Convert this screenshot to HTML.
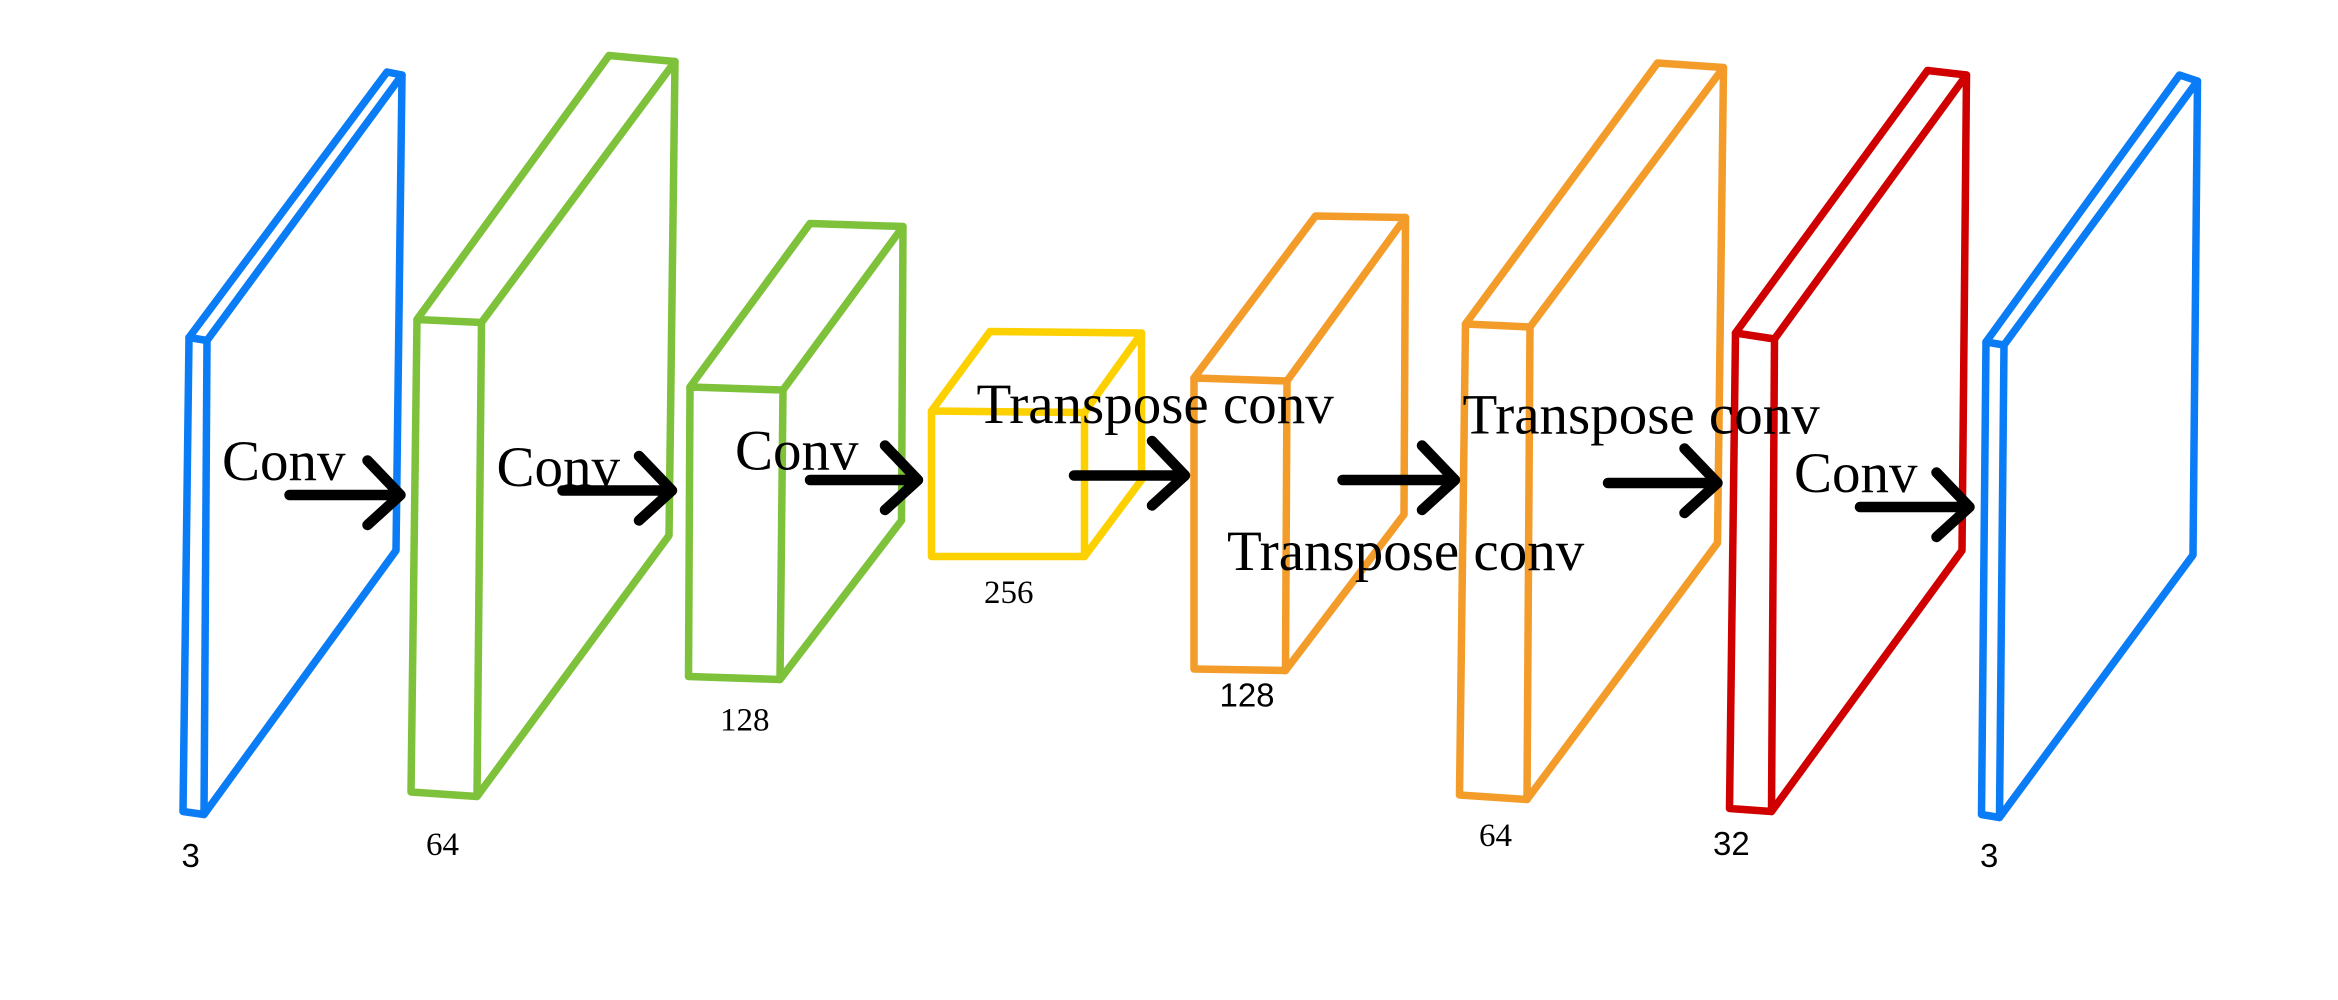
<!DOCTYPE html>
<html><head><style>html,body{margin:0;padding:0;background:#fff;}svg{display:block}</style></head><body>
<svg width="2338" height="1000" viewBox="0 0 1558.67 666.67" xmlns="http://www.w3.org/2000/svg">
<g fill="none" stroke-width="5" stroke-linejoin="round" stroke-linecap="round">
<g stroke="#0a7cf5">
<polygon points="126,225 138,227 136,543 122,541"/>
<polyline points="126,225 258,48 268,50 138,227"/>
<polyline points="268,50 264,367 136,543"/>
</g>
<g stroke="#7dc23a">
<polygon points="278,213 321,215 318,531 274,528"/>
<polyline points="278,213 406,37 450,41 321,215"/>
<polyline points="450,41 446,357 318,531"/>
<polygon points="460,258 522,260 520,453 459,451"/>
<polyline points="460,258 540,149 602,151 522,260"/>
<polyline points="602,151 601,347 520,453"/>
</g>
<g stroke="#fdd000">
<polygon points="621,274 723,275 723,371 621,371"/>
<polyline points="621,274 660,221 761,222 723,275"/>
<polyline points="761,222 761,320 723,371"/>
</g>
<g stroke="#f39c2a">
<polygon points="796,252 858,254 857,447 796,446"/>
<polyline points="796,252 877,144 937,145 858,254"/>
<polyline points="937,145 936,343 857,447"/>
<polygon points="977,216 1020,218 1018,533 973,530"/>
<polyline points="977,216 1105,42 1149,45 1020,218"/>
<polyline points="1149,45 1145,362 1018,533"/>
</g>
<g stroke="#d00000">
<polygon points="1157,222 1183,226 1181,541 1153,539"/>
<polyline points="1157,222 1285,47 1311,50 1183,226"/>
<polyline points="1311,50 1308,367 1181,541"/>
</g>
<g stroke="#0a7cf5">
<polygon points="1324,228 1336,230 1333,545 1321,543"/>
<polyline points="1324,228 1453,50 1465,54 1336,230"/>
<polyline points="1465,54 1462,370 1333,545"/>
</g>
<g stroke="#000" stroke-width="7">
<path d="M193,330H267M245,307L267,330L245,350"/>
<path d="M375,327H448M426,304L448,327L426,347"/>
<path d="M540,320H612M590,297L612,320L590,340"/>
<path d="M716,317H790M768,294L790,317L768,337"/>
<path d="M895,320H970M948,297L970,320L948,340"/>
<path d="M1072,322H1145M1123,299L1145,322L1123,342"/>
<path d="M1240,338H1313M1291,315L1313,338L1291,358"/>
</g>
</g>
<g font-family="'Liberation Serif',serif" font-size="38" fill="#000">
<text x="148" y="320">Conv</text>
<text x="331" y="324">Conv</text>
<text x="490" y="313">Conv</text>
<text x="651" y="282">Transpose conv</text>
<text x="975" y="289">Transpose conv</text>
<text x="818" y="380">Transpose conv</text>
<text x="1196" y="328">Conv</text>
</g>
<g font-family="'Liberation Serif',serif" font-size="22" fill="#000">
<text x="284" y="570">64</text>
<text x="480" y="487">128</text>
<text x="656" y="402">256</text>
<text x="986" y="564">64</text>
</g>
<g font-family="'Liberation Sans',sans-serif" font-size="22" fill="#000">
<text x="121" y="578">3</text>
<text x="813" y="471">128</text>
<text x="1142" y="570">32</text>
<text x="1320" y="578">3</text>
</g>
</svg>
</body></html>
